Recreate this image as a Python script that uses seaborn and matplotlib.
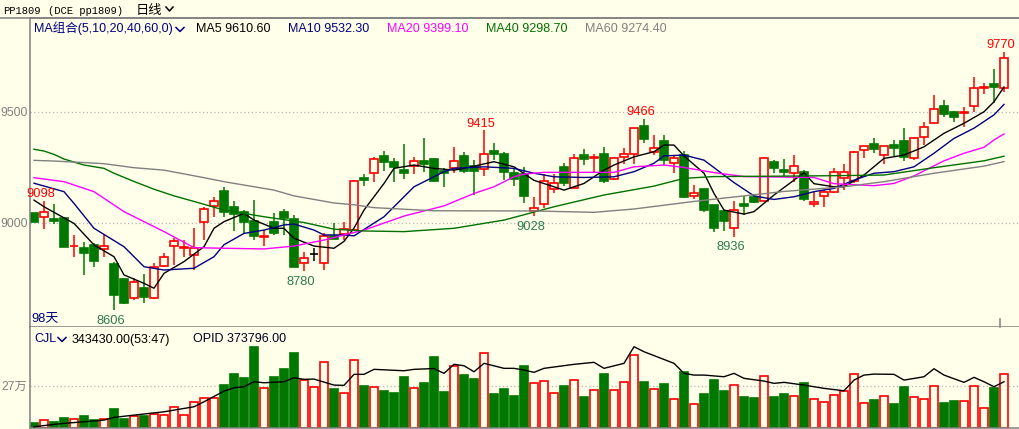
import numpy as np
import pandas as pd
import matplotlib
matplotlib.use("Agg")
import matplotlib.pyplot as plt
import seaborn as sns
from matplotlib.lines import Line2D

# ---------------- data ----------------
opens = [9043, 9023, 9016, 9019, 8892, 8887, 8899, 8879, 8813, 8746,
         8661, 8704, 8661, 8805, 8895, 8886, 8854, 9001, 9074, 9142,
         9068, 9046, 9007, 8934, 9001, 9049, 9014, 8816, 8858, 8816,
         8938, 8948, 8966, 9202, 9222, 9299, 9274, 9236, 9256, 9277,
         9286, 9232, 9247, 9299, 9254, 9240, 9322, 9309, 9222, 9218,
         9052, 9082, 9151, 9251, 9157, 9304, 9290, 9309, 9196, 9294,
         9307, 9435, 9319, 9367, 9269, 9304, 9121, 9151, 9079, 9052,
         8977, 9082, 9113, 9098, 9271, 9236, 9222, 9226, 9082, 9121,
         9139, 9199, 9188, 9326, 9352, 9304, 9349, 9367, 9289, 9384,
         9447, 9525, 9499, 9492, 9525, 9607, 9624, 9605]
highs = [9045, 9098, 9082, 9021, 8944, 8911, 8906, 8944, 8823, 8748,
         8749, 8768, 8819, 8864, 8929, 8921, 8974, 9068, 9116, 9161,
         9097, 9056, 9101, 8966, 9044, 9062, 9034, 8867, 8884, 8952,
         8996, 9004, 9190, 9218, 9294, 9323, 9289, 9352, 9296, 9382,
         9289, 9244, 9341, 9319, 9281, 9415, 9360, 9319, 9244, 9251,
         9116, 9218, 9218, 9266, 9308, 9330, 9308, 9339, 9294, 9334,
         9428, 9466, 9394, 9394, 9304, 9322, 9169, 9151, 9079, 9052,
         9097, 9119, 9128, 9293, 9282, 9286, 9304, 9236, 9139, 9146,
         9244, 9264, 9322, 9346, 9379, 9346, 9372, 9424, 9387, 9454,
         9574, 9552, 9504, 9522, 9657, 9630, 9691, 9770]
lows = [9002, 8969, 8992, 8889, 8846, 8764, 8801, 8846, 8606, 8633,
        8651, 8636, 8655, 8801, 8809, 8846, 8786, 8921, 9026, 9023,
        8962, 8947, 8921, 8894, 8944, 8944, 8798, 8780, 8828, 8786,
        8926, 8921, 8960, 9164, 9184, 9232, 9184, 9196, 9217, 9229,
        9184, 9158, 9222, 9222, 9124, 9211, 9281, 9191, 9164, 9089,
        9028, 9067, 9131, 9164, 9154, 9259, 9222, 9179, 9191, 9262,
        9262, 9357, 9304, 9259, 9222, 9110, 9105, 9046, 8959, 8962,
        8936, 9034, 9086, 9095, 9222, 9209, 9184, 9098, 9071, 9068,
        9131, 9146, 9176, 9292, 9311, 9262, 9301, 9278, 9281, 9349,
        9447, 9477, 9451, 9432, 9499, 9578, 9537, 9589]
closes = [9004, 9046, 9005, 8891, 8896, 8861, 8828, 8894, 8675, 8639,
          8731, 8666, 8801, 8846, 8917, 8890, 8887, 9059, 9097, 9046,
          9037, 9004, 8939, 8938, 8951, 9022, 8801, 8842, 8858, 8941,
          8928, 8969, 9187, 9191, 9286, 9274, 9251, 9222, 9277, 9262,
          9188, 9222, 9277, 9232, 9232, 9307, 9307, 9226, 9196, 9119,
          9064, 9187, 9176, 9179, 9289, 9285, 9293, 9187, 9289, 9309,
          9424, 9376, 9334, 9281, 9289, 9116, 9132, 9056, 8977, 9007,
          9055, 9076, 9094, 9289, 9244, 9229, 9256, 9104, 9094, 9136,
          9229, 9226, 9316, 9346, 9330, 9346, 9337, 9296, 9379, 9429,
          9510, 9487, 9474, 9496, 9605, 9611, 9612, 9740]
volumes = [27600, 47000, 34000, 60000, 53000, 73000, 47000, 53000, 118000, 53000,
           73000, 73000, 86000, 79000, 131000, 79000, 163000, 189000, 189000, 272000,
           343000, 317000, 517000, 253000, 323000, 375000, 478000, 308000, 259000, 424000,
           246000, 220000, 437000, 265000, 263000, 233000, 220000, 323000, 257000, 285000,
           452000, 227000, 398000, 336000, 311000, 476000, 214000, 246000, 201000, 394000,
           289000, 302000, 225000, 265000, 308000, 195000, 244000, 343000, 244000, 291000,
           465000, 291000, 251000, 278000, 186000, 356000, 154000, 214000, 304000, 233000,
           276000, 195000, 188000, 334000, 195000, 214000, 206000, 285000, 186000, 167000,
           212000, 233000, 341000, 161000, 176000, 206000, 150000, 259000, 199000, 186000,
           270000, 156000, 169000, 174000, 270000, 129000, 253000, 343430]

ma5_idx = [0, 1, 4, 6, 8, 9, 11, 12, 13, 15, 17, 18, 19, 21, 22, 24, 25, 26, 28, 30,
           31, 32, 33, 35, 36, 38, 40, 42, 43, 46, 48, 50, 52, 53, 55, 57, 58, 60, 62, 63,
           64, 65, 67, 68, 69, 71, 72, 74, 76, 77, 78, 80, 81, 83, 85, 87, 89, 91, 93, 95,
           96, 97]
ma5_val = [9101, 9071, 8996, 8899, 8846, 8764, 8726, 8704, 8771, 8824, 8891, 8974, 9004, 9041,
           9011, 8974, 8974, 8929, 8894, 8884, 8915, 8975, 9056, 9176, 9244, 9259, 9244, 9236,
           9244, 9274, 9251, 9190, 9161, 9146, 9176, 9236, 9259, 9296, 9319, 9349, 9349, 9300,
           9222, 9131, 9056, 9038, 9049, 9124, 9191, 9224, 9175, 9161, 9161, 9214, 9289, 9304,
           9341, 9402, 9447, 9499, 9544, 9610.6]
ma10_idx = [0, 3, 4, 6, 9, 11, 13, 16, 18, 19, 21, 23, 25, 26, 28, 29, 31, 32, 35, 38,
            41, 42, 45, 48, 50, 52, 55, 58, 60, 62, 63, 65, 67, 70, 72, 74, 76, 78, 80, 82,
            84, 86, 88, 90, 92, 94, 96, 97]
ma10_val = [9177, 9139, 9086, 8974, 8891, 8801, 8786, 8794, 8846, 8900, 8951, 8966, 8989, 8993,
            8966, 8944, 8944, 8940, 9026, 9161, 9229, 9244, 9251, 9244, 9222, 9206, 9203, 9206,
            9229, 9267, 9300, 9304, 9281, 9180, 9120, 9104, 9116, 9139, 9154, 9191, 9222, 9229,
            9251, 9312, 9379, 9425, 9485, 9532.3]
ma20_idx = [0, 3, 6, 9, 13, 16, 19, 23, 26, 29, 32, 33, 37, 41, 44, 46, 48, 49, 51, 58,
            60, 63, 65, 68, 71, 78, 80, 84, 86, 88, 91, 93, 95, 96, 97]
ma20_val = [9202, 9184, 9139, 9049, 8959, 8887, 8884, 8881, 8894, 8921, 8955, 8966, 9029, 9075,
            9131, 9161, 9206, 9218, 9226, 9226, 9251, 9259, 9248, 9225, 9207, 9203, 9175, 9166,
            9176, 9210, 9278, 9312, 9339, 9372, 9399.1]
ma40_idx = [0, 1, 2, 3, 5, 7, 8, 10, 12, 14, 16, 19, 23, 27, 30, 33, 37, 42, 47, 52,
            57, 62, 65, 68, 75, 80, 85, 90, 95, 97]
ma40_val = [9330, 9322, 9307, 9286, 9259, 9244, 9222, 9185, 9150, 9120, 9095, 9056, 9026, 9000,
            8970, 8962, 8959, 8974, 9011, 9071, 9124, 9164, 9199, 9207, 9209, 9211, 9214, 9247,
            9278, 9298.7]
ma60_idx = [0, 2, 5, 7, 10, 13, 17, 19, 24, 26, 30, 32, 34, 40, 50, 56, 60, 63, 66, 70,
            75, 81, 85, 90, 95, 97]
ma60_val = [9280, 9277, 9270, 9265, 9247, 9236, 9202, 9184, 9146, 9120, 9088, 9080, 9067, 9053,
            9052, 9046, 9061, 9078, 9095, 9115, 9140, 9161, 9184, 9222, 9254, 9274.4]

opid_idx = [0, 2, 3, 7, 8, 10, 13, 16, 17, 19, 20, 21, 22, 23, 25, 26, 27, 28, 29, 30,
            31, 32, 33, 34, 37, 38, 40, 41, 42, 43, 44, 45, 47, 48, 49, 50, 51, 54, 56, 57,
            59, 60, 61, 64, 65, 66, 67, 69, 70, 71, 73, 74, 75, 77, 79, 81, 82, 83, 84, 86,
            87, 89, 90, 91, 93, 94, 95, 96, 97]
opid_val = [306300, 309900, 311400, 316300, 320400, 323800, 328800, 336300, 343800, 359800,
            364800, 366300, 373800, 372300, 373800, 379800, 377400, 377800, 373300, 368800,
            368400, 384900, 384900, 392400, 390300, 392400, 393600, 386400, 399900, 397800,
            388800, 401400, 393900, 393900, 391300, 387900, 393900, 399900, 402900, 393900,
            401400, 426300, 418800, 401400, 386400, 383800, 383800, 381300, 386400, 378900,
            374800, 371400, 372900, 368800, 363900, 360300, 376300, 383800, 385300, 384900,
            376300, 381300, 393300, 383800, 372900, 380400, 373800, 366300, 373796]

ext_idx = [1, 8, 27, 45, 50, 61, 70, 97]
ext_val = [9098, 8606, 8780, 9415, 9028, 9466, 8936, 9770]
ext_kind = ["high", "low", "low", "high", "low", "high", "low", "high"]

price_ticks = [9000, 9500]
vol_ticks = [270000]
vol_tick_labels = ["27万"]

title_code = "PP1809"
title_exch = "(DCE pp1809)"
title_period = "日线"
ma_group = "MA组合(5,10,20,40,60,0)"
ma_names = ["MA5", "MA10", "MA20", "MA40", "MA60"]
ma_last = [9610.60, 9532.30, 9399.10, 9298.70, 9274.40]
cjl_last = 343430.00
cjl_ratio = "53:47"
opid_last = 373796.00
n_days = 98

# ---------------- style ----------------
BG = "#FFFFEA"
RED = "#FF0000"
GRN = "#007800"
GRAY = "#808080"
NAVY = "#000080"
LOWC = "#2E7A50"
LAT = ["Liberation Sans", "Noto Sans CJK SC"]
MONO = ["Liberation Mono", "Noto Sans CJK SC"]
ma_colors = ["#000000", NAVY, "#FF00FF", "#007000", GRAY]
hdr_colors = ["#000000", NAVY, "#FF00FF", "#007000", GRAY]

W, H = 1019, 429
fig = plt.figure(figsize=(W / 100, H / 100), dpi=100, facecolor=BG)


def fx(px):
    return px / W


def fy(py):
    return 1 - py / H


ax = fig.add_axes([fx(29.5), fy(327.3), fx(W - 29.5), (327.3 - 18.3) / H])
axv = fig.add_axes([fx(29.5), fy(427.6), fx(W - 29.5), (427.6 - 327.3) / H])
for a in (ax, axv):
    a.set_facecolor(BG)

idx = np.arange(len(opens))
o = np.array(opens, float)
c = np.array(closes, float)
hi = np.array(highs, float)
lo = np.array(lows, float)

cols = np.where(c > o, RED, np.where(c < o, GRN, "#000000"))

# wicks
ax.vlines(idx, lo, hi, colors=cols, lw=1.1, zorder=2)
# bodies
bottoms = np.minimum(o, c)
heights = np.maximum(np.abs(c - o), 0.5)
faces = [BG if col != GRN else GRN for col in cols]
ax.bar(idx, heights, bottom=bottoms, width=0.78, color=faces, edgecolor=cols,
       linewidth=1.2, zorder=2.5)

# MA lines via seaborn
for ii, vv, colr in zip([ma5_idx, ma10_idx, ma20_idx, ma40_idx, ma60_idx],
                        [ma5_val, ma10_val, ma20_val, ma40_val, ma60_val], ma_colors):
    df = pd.DataFrame({"i": ii, "v": vv})
    sns.lineplot(data=df, x="i", y="v", ax=ax, color=colr, lw=1.0,
                 estimator=None, sort=False, legend=False, zorder=3)

for yv in price_ticks:
    ax.axhline(yv, color="#B4B4B4", ls=(0, (1, 2)), lw=0.9, zorder=0.5)

ax.set_xlim(-0.45, 98.5)
ax.set_ylim(8528, 9920)
ax.set_xticks([])
ax.set_yticks(price_ticks)
ax.set_yticklabels([str(t) for t in price_ticks])
ax.tick_params(axis="y", length=0, pad=1.5, labelcolor=GRAY, labelsize=8.8)
for t in ax.get_yticklabels():
    t.set_fontfamily(LAT)
ax.set_xlabel("")
ax.set_ylabel("")
for s in ["left", "top", "bottom"]:
    ax.spines[s].set_color(GRAY)
    ax.spines[s].set_linewidth(1.1)
ax.spines["right"].set_visible(False)

# extreme labels
for i, v, k in zip(ext_idx, ext_val, ext_kind):
    if k == "high":
        ax.annotate(str(v), xy=(i, v), xytext=(-2.2, 2.7), textcoords="offset points",
                    ha="center", va="baseline", color=RED, fontsize=9.3,
                    family=LAT, zorder=5, annotation_clip=False)
    else:
        ax.annotate(str(v), xy=(i, v), xytext=(-2.2, -9.8), textcoords="offset points",
                    ha="center", va="baseline", color=LOWC, fontsize=9.3,
                    family=LAT, zorder=5, annotation_clip=False)

# ---------------- volume panel ----------------
vol = np.array(volumes, float)
vfaces = [GRN if col == GRN else BG for col in cols]
vedges = [GRN if col == GRN else RED for col in cols]
axv.bar(idx, vol, width=0.8, color=vfaces, edgecolor=vedges, linewidth=1.2, zorder=2)
axv.axhline(vol_ticks[0], color="#B4B4B4", ls=(0, (1, 2)), lw=0.9, zorder=0.5)
axv.set_xlim(-0.45, 98.5)
axv.set_ylim(0, 644000)
axv.set_xticks([])
axv.set_yticks(vol_ticks)
axv.set_yticklabels(vol_tick_labels)
axv.tick_params(axis="y", length=0, pad=1.5, labelcolor=GRAY, labelsize=8.8)
for t in axv.get_yticklabels():
    t.set_fontfamily(LAT)
for s in ["left", "bottom"]:
    axv.spines[s].set_color(GRAY)
    axv.spines[s].set_linewidth(1.1)
for s in ["top", "right"]:
    axv.spines[s].set_visible(False)
axv.set_xlabel("")
axv.set_ylabel("")

axo = axv.twinx()
dfo = pd.DataFrame({"i": opid_idx, "v": opid_val})
sns.lineplot(data=dfo, x="i", y="v", ax=axo, color="#000000", lw=1.0,
             estimator=None, sort=False, legend=False, zorder=3)
axo.set_ylim(305100, 455400)
axo.set_xlim(-0.45, 98.5)
axo.set_yticks([])
axo.set_ylabel("")
for s in axo.spines.values():
    s.set_visible(False)

# ---------------- texts / decorations ----------------
def txt(px, py, s, color, size=9, fam=LAT, ha="left"):
    fig.text(fx(px), fy(py), s, color=color, fontsize=size, family=fam,
             ha=ha, va="center_baseline")


def chevron(x0, y0, w, h, color):
    fig.add_artist(Line2D([fx(x0), fx(x0 + w / 2), fx(x0 + w)],
                          [fy(y0), fy(y0 + h), fy(y0)], color=color, lw=1.1))


# top line
fig.add_artist(Line2D([0, 1], [fy(18.3), fy(18.3)], color=GRAY, lw=1.1))

txt(3, 9.5, title_code, "#000000", 7.6, MONO)
txt(48, 9.5, title_exch, "#000000", 7.6, MONO)
txt(136, 9.5, title_period, "#000000", 9.5, MONO)
chevron(166, 7, 7, 4, "#000000")

txt(34, 27, ma_group, NAVY, 9.0)
chevron(176, 27.5, 8, 4, NAVY)
hdr_x = [196, 288, 387, 486, 585]
for xx, nm, val, colr in zip(hdr_x, ma_names, ma_last, hdr_colors):
    txt(xx, 27, f"{nm} {val:.2f}", colr, 9.0)

txt(31, 318, f"{n_days}天", NAVY, 9.3)

txt(34, 338, "CJL", NAVY, 9.0)
chevron(58, 337.5, 8, 4, NAVY)
txt(72, 338, f"{cjl_last:.2f}({cjl_ratio})", "#000000", 9.0)
txt(193, 338, f"OPID {opid_last:.2f}", "#000020", 9.0)

# small date marker tick
fig.add_artist(Line2D([fx(999.5), fx(999.5)], [fy(319), fy(327)], color=GRAY, lw=1.1))

fig.savefig("out.png", dpi=100, facecolor=BG)
